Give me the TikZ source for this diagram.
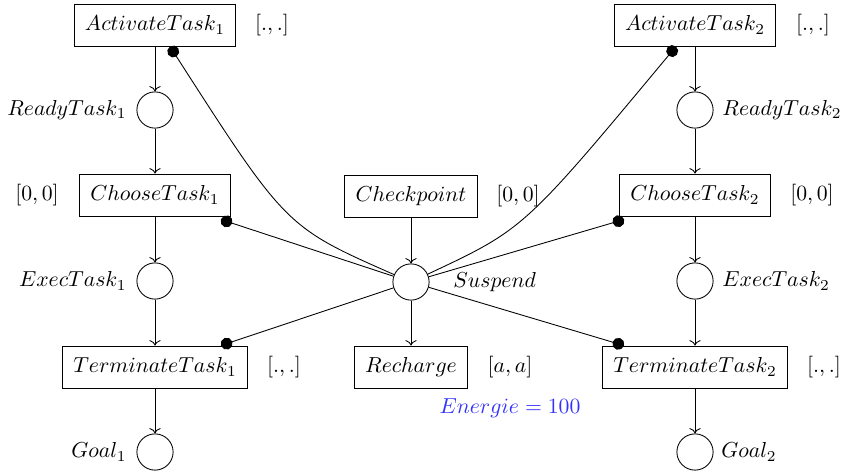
\documentclass[tikz,border=0pt]{standalone}
\usetikzlibrary{arrows.meta,calc}
\begin{document}
\begin{tikzpicture}[x=0.461pt,y=0.461pt,
  trans/.style={draw, rectangle, inner xsep=5pt, inner ysep=0pt, minimum height=19.4pt},
  place/.style={draw, circle, minimum size=16.7pt, inner sep=0pt},
  inh/.style={-{Circle[length=5.5pt]}},
  lbl/.style={inner sep=0pt},
  arc/.style={->}]
\useasboundingbox (0,0) rectangle (842,-474);
% left column
\node[trans] (a1) at (155,-25) {$ActivateTask_1$};
\node[place] (r1) at (155,-110) {};
\node[trans] (c1) at (155,-195) {$ChooseTask_1$};
\node[place] (e1) at (155,-281) {};
\node[trans] (t1) at (155,-367) {$TerminateTask_1$};
\node[place] (g1) at (155,-452) {};
% right column
\node[trans] (a2) at (695,-25) {$ActivateTask_2$};
\node[place] (r2) at (695,-110) {};
\node[trans] (c2) at (695,-195) {$ChooseTask_2$};
\node[place] (e2) at (695,-281) {};
\node[trans] (t2) at (695,-367) {$TerminateTask_2$};
\node[place] (g2) at (695,-452) {};
% middle
\node[trans] (cp) at (411,-196) {$Checkpoint$};
\node[place] (s) at (411,-282) {};
\node[trans] (rc) at (411,-367) {$Recharge$};
% labels
\node[lbl] (la1) at (272,-25) {$[.,.]$};
\node[lbl,anchor=east] (lr1) at (127,-110) {$ReadyTask_1$};
\node[lbl] (lc1) at (37,-195) {$[0,0]$};
\node[lbl,anchor=east] (le1) at (127,-281) {$ExecTask_1$};
\node[lbl] (lt1) at (284,-367) {$[.,.]$};
\node[lbl,anchor=east] (lg1) at (127,-452) {$Goal_1$};
\node[lbl] (la2) at (813,-25) {$[.,.]$};
\node[lbl,anchor=west] (lr2) at (722,-110) {$ReadyTask_2$};
\node[lbl] (lc2) at (812,-195) {$[0,0]$};
\node[lbl,anchor=west] (le2) at (722,-281) {$ExecTask_2$};
\node[lbl] (lt2) at (824,-367) {$[.,.]$};
\node[lbl,anchor=west] (lg2) at (721,-452) {$Goal_2$};
\node[lbl] (lcp) at (518,-196) {$[0,0]$};
\node[lbl,anchor=west] (ls) at (453,-282) {$Suspend$};
\node[lbl] (lrc) at (510,-367) {$[a,a]$};
\node[lbl,text=blue!80!white] (en) at (510,-408) {$Energie = 100$};
% arcs
\draw[arc] (a1) -- (r1);
\draw[arc] (r1) -- (c1);
\draw[arc] (c1) -- (e1);
\draw[arc] (e1) -- (t1);
\draw[arc] (t1) -- (g1);
\draw[arc] (a2) -- (r2);
\draw[arc] (r2) -- (c2);
\draw[arc] (c2) -- (e2);
\draw[arc] (e2) -- (t2);
\draw[arc] (t2) -- (g2);
\draw[arc] (cp) -- (s);
\draw[arc] (s) -- (rc);
% inhibitor arcs
\draw[inh] (s) .. controls (286,-227) .. ($(a1.south)+(15,0)$);
\draw[inh] (s) .. controls (524,-229) .. ($(a2.south)+(-19,0)$);
\draw[inh] (s) -- ($(c1.south east)+(-10,-3)$);
\draw[inh] (s) -- ($(t1.north)+(66,0)$);
\draw[inh] (s) -- ($(c2.south west)+(5,-3)$);
\draw[inh] (s) -- ($(t2.north)+(-71,0)$);
\end{tikzpicture}
\end{document}
